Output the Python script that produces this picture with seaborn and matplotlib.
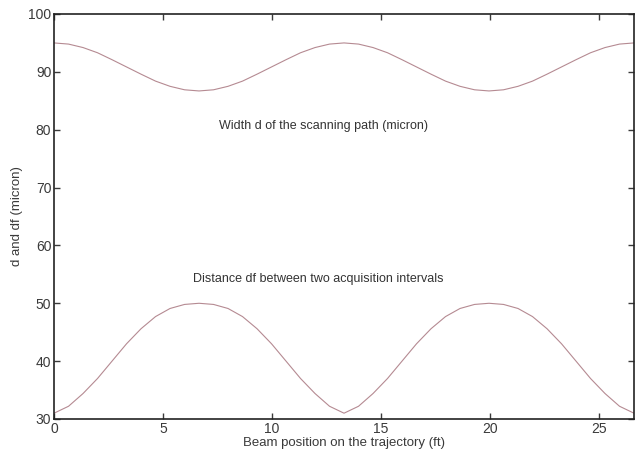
import seaborn as sns
import pandas as pd
import matplotlib.pyplot as plt

# beam position samples (ft), every 0.665 ft over two periods
position = [0.665 * k for k in range(41)]

# width d of the scanning path (micron)
width_half = [95.0, 94.8, 94.2, 93.3, 92.1, 90.85, 89.6, 88.4, 87.5, 86.9, 86.7]
# distance df between acquisition intervals (micron)
dist_half = [31.0, 32.2, 34.4, 37.0, 40.0, 43.0, 45.6, 47.7, 49.1, 49.8, 50.0]

width_d = width_half + width_half[-2::-1] + width_half[1:] + width_half[-2::-1]
dist_df = dist_half + dist_half[-2::-1] + dist_half[1:] + dist_half[-2::-1]

x_ticks = [0, 5, 10, 15, 20, 25]
y_ticks = [30, 40, 50, 60, 70, 80, 90, 100]

df = pd.DataFrame({"x": position, "d": width_d, "df": dist_df})

sns.set_style("ticks")
plt.rcParams["font.family"] = ["Liberation Sans", "DejaVu Sans"]

fig = plt.figure(figsize=(6.44, 4.62), dpi=100)
ax = fig.add_axes([0.0839, 0.0931, 0.9006, 0.8766])

line_color = "#b58a92"
sns.lineplot(data=df, x="x", y="d", ax=ax, color=line_color, linewidth=0.8)
sns.lineplot(data=df, x="x", y="df", ax=ax, color=line_color, linewidth=0.8)

ax.set_xlim(0, 26.6)
ax.set_ylim(30, 100)
ax.set_xticks(x_ticks)
ax.set_yticks(y_ticks)
ax.tick_params(direction="in", top=True, right=True, length=4, width=1,
               labelsize=10, colors="#3a3a3a", pad=2)
for s in ax.spines.values():
    s.set_linewidth(1.2)
    s.set_color("#222222")

ax.set_xlabel("Beam position on the trajectory (ft)", fontsize=9.5,
              color="#3a3a3a", labelpad=1)
ax.set_ylabel("d and df (micron)", fontsize=9.5, color="#3a3a3a", labelpad=4)

ax.text(7.57, 80.6, "Width d of the scanning path (micron)", fontsize=9,
        color="#333333", va="center")
ax.text(6.38, 54.2, "Distance df between two acquisition intervals", fontsize=9,
        color="#333333", va="center")

fig.savefig("out.png", dpi=100)
